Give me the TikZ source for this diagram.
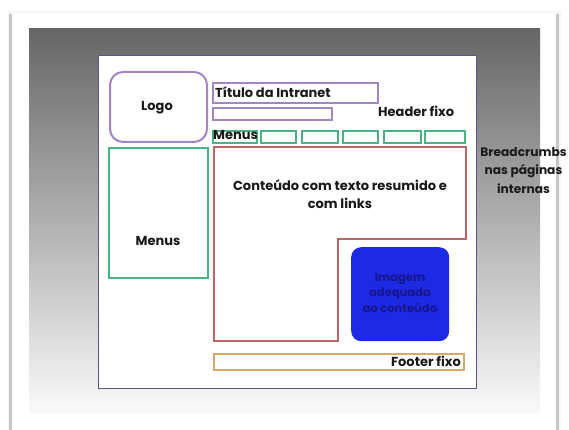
\documentclass[tikz,border=0pt]{standalone}
\usepackage{fontspec}
\setmainfont{Poppins}[UprightFont=* Bold, BoldFont=* Bold]
\definecolor{frameblue}{HTML}{55558C}
\definecolor{purp}{HTML}{A484C4}
\definecolor{grn}{HTML}{48B484}
\definecolor{redc}{HTML}{BE6464}
\definecolor{orng}{HTML}{D6A86C}
\definecolor{imgblue}{HTML}{1D29E3}
\definecolor{imgtxt}{HTML}{16168A}
\definecolor{txt}{HTML}{1A1A1A}
\tikzset{
  box/.style={line width=2pt},
  lbl/.style={text=txt, font=\fontsize{13}{15}\selectfont, inner sep=0pt, align=center},
}
\begin{document}
\begin{tikzpicture}[x=1pt,y=-1pt]
\clip (0,0) rectangle (569,430);
\fill[white] (0,0) rectangle (569,430);
% card with shadow
\fill[black!4] (8,11) rectangle (561,440);
\fill[black!22] (9,14) rectangle (12,440);
\fill[black!22] (556,14) rectangle (559,440);
\fill[white] (12,13) rectangle (556,440);
% gradient backdrop
\shade[top color=black!60, bottom color=black!2] (29,29) rectangle (540,413);
% page
\node[draw=frameblue, line width=1.4pt, fill=white, minimum width=378pt, minimum height=333pt, anchor=north west, inner sep=0pt] (page) at (98,55) {};
% logo
\node[draw=purp, box, rounded corners=13pt, minimum width=97pt, minimum height=70pt, anchor=north west] (logo) at (109,71) {};
\node[lbl] (logot) at (157,108) {Logo};
% title boxes
\node[draw=purp, box, minimum width=165pt, minimum height=20pt, anchor=north west, inner sep=0pt] (title) at (212,82) {};
\node[lbl, anchor=west] (titlet) at (215,92) {Título da Intranet};
\node[draw=purp, box, minimum width=119pt, minimum height=12pt, anchor=north west, inner sep=0pt] (sub) at (212,107) {};
\node[lbl, anchor=west] (header) at (378,111) {Header fixo};
% menu row
\node[draw=grn, box, minimum width=44pt, minimum height=12pt, anchor=north west, inner sep=0pt] (m0) at (212,130) {};
\node[lbl, anchor=west] (menust) at (213,135) {Menus};
\foreach \i/\a/\b in {1/260/295,2/301/337,3/342/377,4/383/420,5/424/464}{
  \node[draw=grn, box, minimum width={\b-\a}, minimum height=12pt, anchor=north west, inner sep=0pt, fill=white] (m\i) at (\a,130) {};
}
% left menus
\node[draw=grn, box, minimum width=99pt, minimum height=130pt, anchor=north west, inner sep=0pt] (lmenu) at (108,147) {};
\node[lbl] (lmenut) at (158,241) {Menus};
% content polygon
\draw[redc, box] (214,147) coordinate (c1) -- (466,147) -- (466,239) -- (338,239) -- (338,341) -- (214,341) -- cycle;
\node[lbl, font=\fontsize{13}{18}\selectfont] (contt) at (340,194) {Conteúdo com texto resumido e\\com links};
% image
\node[fill=imgblue, rounded corners=10pt, minimum width=98pt, minimum height=94pt, anchor=north west, inner sep=0pt] (img) at (351,247) {};
\node[lbl, text=imgtxt, font=\fontsize{11.5}{15.5}\selectfont] (imgt) at (400,293) {Imagem\\adequada\\ao conteúdo};
% footer
\node[draw=orng, box, minimum width=250pt, minimum height=16pt, anchor=north west, inner sep=0pt] (footer) at (213,353) {};
\node[lbl, anchor=east] (foott) at (461,361) {Footer fixo};
% breadcrumbs
\node[lbl, font=\fontsize{12.2}{18.5}\selectfont, anchor=north] (bc) at (523.5,147) {Breadcrumbs\\nas páginas\\internas};
\end{tikzpicture}
\end{document}
